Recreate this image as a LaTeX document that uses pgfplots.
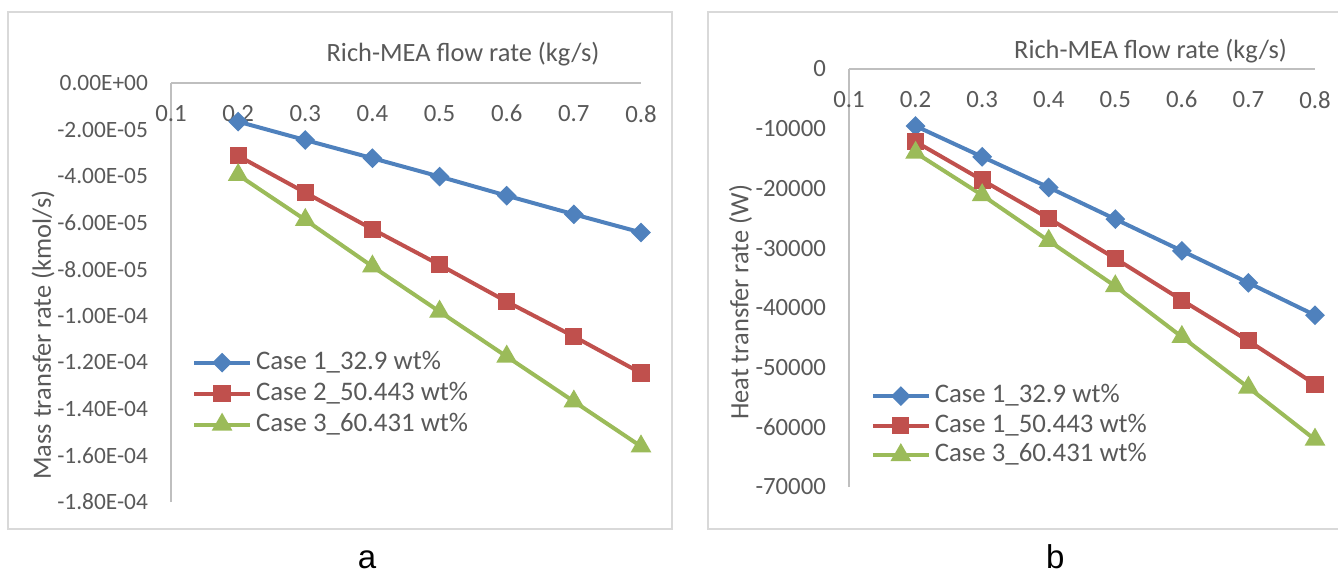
\documentclass[border=0pt]{standalone}
\usepackage{pgfplots}
\pgfplotsset{compat=1.18}
\usepackage{fontspec}
\setmainfont{Carlito}
\newfontfamily\arialfont{Liberation Sans}
\definecolor{txt}{HTML}{595959}
\definecolor{axgray}{HTML}{BFBFBF}
\definecolor{boxgray}{HTML}{D9D9D9}
\definecolor{cblue}{HTML}{4F81BD}
\definecolor{cred}{HTML}{C0504D}
\definecolor{cgreen}{HTML}{9BBB59}
\newcommand{\cfont}{\fontsize{13.2}{15}\selectfont}
\newcommand{\tfont}{\fontsize{12.4}{14}\selectfont}
\newcommand{\tafont}{\fontsize{11.7}{14}\selectfont}
\newcommand{\lfont}{\fontsize{13.4}{15}\selectfont}

\pgfplotsset{
  excel/.style={
    scale only axis, anchor=north west,
    xmin=0.1, xmax=0.8,
    axis x line*=top, axis y line*=left,
    axis line style={draw=axgray, line width=0.8pt},
    major tick length=0pt,
    xtick={0.1,0.2,0.3,0.4,0.5,0.6,0.7,0.8},
    xticklabels={0.1,0.2,0.3,0.4,0.5,0.6,0.7,0.8},
    xticklabel style={anchor=north, yshift=-7.5pt, font=\tfont},
    yticklabel style={anchor=east, xshift=-8pt},
    tick label style={font=\tfont, text=txt},
    scaled y ticks=false,
    clip=false,
    legend cell align=left,
    legend style={draw=none, fill=none, inner sep=0pt, font=\lfont, text=txt,
      nodes={inner sep=0pt, text height=9pt, text depth=2.5pt},
      column sep=2pt},
    legend image code/.code={\draw[mark repeat=2,mark phase=2,#1] plot coordinates {(0pt,0pt) (14pt,0pt) (28pt,0pt)};},
  },
  s1/.style={color=cblue, line width=2pt, mark=square*, mark size=2.5pt, mark options={rotate=45, draw=none, fill=cblue}},
  s2/.style={color=cred, line width=2pt, mark=square*, mark size=3.3pt, mark options={draw=none, fill=cred}},
  s3/.style={color=cgreen, line width=2pt, mark=triangle*, mark size=4pt, mark options={draw=none, fill=cgreen}},
}

\begin{document}
\begin{tikzpicture}
\path[use as bounding box] (0pt,0pt) rectangle (669pt,-287pt);
\draw[boxgray, line width=0.75pt] (4pt,-6pt) rectangle (336pt,-264.5pt);
\draw[boxgray, line width=0.75pt] (354pt,-6pt) rectangle (672pt,-264.5pt);

% Panel a
\begin{axis}[excel, at={(85.5pt,-41.5pt)}, width=235pt, height=209.5pt,
  ymin=-1.8e-4, ymax=0,
  ytick={0,-2e-5,-4e-5,-6e-5,-8e-5,-1e-4,-1.2e-4,-1.4e-4,-1.6e-4,-1.8e-4},
  yticklabels={0.00E+00,-2.00E-05,-4.00E-05,-6.00E-05,-8.00E-05,-1.00E-04,-1.20E-04,-1.40E-04,-1.60E-04,-1.80E-04},
  yticklabel style={font=\tafont},
  legend style={at={(0.044,0.361)}, anchor=north west, row sep=4pt},
]
\addplot[s1] coordinates {(0.2,-1.66e-5) (0.3,-2.45e-5) (0.4,-3.23e-5) (0.5,-4.02e-5) (0.6,-4.84e-5) (0.7,-5.64e-5) (0.8,-6.42e-5)};
\addplot[s2] coordinates {(0.2,-3.13e-5) (0.3,-4.71e-5) (0.4,-6.28e-5) (0.5,-7.81e-5) (0.6,-9.39e-5) (0.7,-10.89e-5) (0.8,-12.46e-5)};
\addplot[s3] coordinates {(0.2,-3.95e-5) (0.3,-5.88e-5) (0.4,-7.88e-5) (0.5,-9.82e-5) (0.6,-11.75e-5) (0.7,-13.68e-5) (0.8,-15.61e-5)};
\legend{Case 1\_32.9 wt\%, Case 2\_50.443 wt\%, Case 3\_60.431 wt\%}
\end{axis}

% Panel b
\begin{axis}[excel, at={(424.5pt,-34.5pt)}, width=233pt, height=209pt,
  ymin=-70000, ymax=0,
  ytick={0,-10000,-20000,-30000,-40000,-50000,-60000,-70000},
  yticklabels={0,-10000,-20000,-30000,-40000,-50000,-60000,-70000},
  legend style={at={(0.046,0.246)}, anchor=north west, row sep=3.25pt},
]
\addplot[s1] coordinates {(0.2,-9550) (0.3,-14700) (0.4,-19830) (0.5,-25140) (0.6,-30450) (0.7,-35810) (0.8,-41230)};
\addplot[s2] coordinates {(0.2,-12180) (0.3,-18600) (0.4,-25020) (0.5,-31730) (0.6,-38710) (0.7,-45530) (0.8,-52790)};
\addplot[s3] coordinates {(0.2,-14020) (0.3,-21120) (0.4,-28770) (0.5,-36370) (0.6,-44860) (0.7,-53350) (0.8,-62060)};
\legend{Case 1\_32.9 wt\%, Case 1\_50.443 wt\%, Case 3\_60.431 wt\%}
\end{axis}

% axis titles
\node[anchor=base, text=txt, font=\cfont, inner sep=0pt] at (231.5pt,-30.5pt) {Rich-MEA flow rate (kg/s)};
\node[anchor=base, text=txt, font=\cfont, inner sep=0pt] at (575.25pt,-29.2pt) {Rich-MEA flow rate (kg/s)};
\node[rotate=90, text=txt, font=\cfont, inner sep=0pt] at (21.5pt,-167.5pt) {Mass transfer rate (kmol/s)};
\node[rotate=90, text=txt, font=\cfont, inner sep=0pt] at (370.3pt,-151.2pt) {Heat transfer rate (W)};

% panel letters
\node[anchor=base, inner sep=0pt, font=\arialfont\fontsize{16.5}{19}\selectfont] at (183.5pt,-284pt) {a};
\node[anchor=base, inner sep=0pt, font=\arialfont\fontsize{16.5}{19}\selectfont] at (527.7pt,-284pt) {b};
\end{tikzpicture}
\end{document}
